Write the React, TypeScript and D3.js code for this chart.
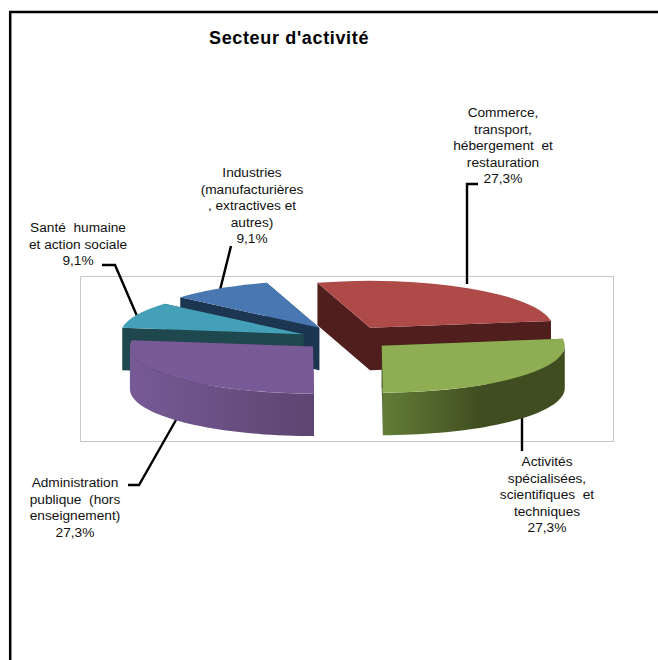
import React from "react";
import * as d3 from "d3";

const width = 658;
const height = 660;

// donnees
const title = "Secteur d'activité";
const secteurs = [
  "Commerce, transport, hébergement et restauration",
  "Activités spécialisées, scientifiques et techniques",
  "Administration publique (hors enseignement)",
  "Santé humaine et action sociale",
  "Industries (manufacturières, extractives et autres)",
];
const valeurs = [27.3, 27.3, 27.3, 9.1, 9.1];
const pourcent = ["27,3%", "27,3%", "27,3%", "9,1%", "9,1%"];
const explosion = [56, 55, 36, 40, 38];
const ajustY = [1.5, -2, 2, 0, -2.5];

const etiquettes = [
  ["Commerce,", "transport,", "hébergement  et", "restauration", "27,3%"],
  ["Activités", "spécialisées,", "scientifiques  et", "techniques", "27,3%"],
  ["Administration", "publique  (hors", "enseignement)", "27,3%"],
  ["Santé  humaine", "et action sociale", "9,1%"],
  ["Industries", "(manufacturières", ", extractives et", "autres)", "9,1%"],
];
const etiquetteX = [503, 547, 75, 78, 252];
const etiquetteY = [117, 466, 487, 232, 177];

const couleursDessus = ["#ae4a47", "#8fae54", "#775a96", "#43a0b8", "#4877b1"];
const couleursCoupe = ["#4f1e1d", "#3f4d20", "#4a3860", "#1f474e", "#1c3550"];
const couleursParoi = [
  ["#6e2e2c", "#4f1e1d"],
  ["#647e38", "#3f4d20"],
  ["#775a96", "#5c4570"],
  ["#2c6472", "#1f474e"],
  ["#2c4d74", "#1c3550"],
];

const leaders = [
  [[467, 284], [467, 184], [478, 184]],
  [[522, 416], [522, 451]],
  [[176, 420], [139, 485], [128, 485]],
  [[137, 316], [115, 265], [102, 265]],
  [[220, 290], [231, 246]],
];

const rx = 183;
const ry = 47;
const epaisseur = 42.5;
const cx = 340;
const cy = 338.5;
const depart = (-16.7 * Math.PI) / 180;

const pie = d3
  .pie<number>()
  .sort(null)
  .value((d) => d)
  .startAngle(depart)
  .endAngle(depart + 2 * Math.PI);

const arcs = pie(valeurs);

const centres = arcs.map((a, i) => {
  const mid = (a.startAngle + a.endAngle) / 2;
  return {
    x: cx + explosion[i] * Math.sin(mid),
    y: cy - (explosion[i] * Math.cos(mid) * ry) / rx + ajustY[i],
  };
});

const dessus = d3.arc<d3.PieArcDatum<number>>().innerRadius(0).outerRadius(rx);

// ordre de dessin repris de la figure : rouge, bleu, sarcelle, violet, vert
const ordre = [0, 4, 3, 2, 1];

const px = (a: number) => rx * Math.sin(a);
const py = (a: number) => -ry * Math.cos(a);

function Part({ i }: { i: number }) {
  const a = arcs[i];
  const c = centres[i];
  // seule la moitie avant de la paroi est visible
  const lo = Math.max(a.startAngle, Math.PI / 2);
  const hi = Math.min(a.endAngle, (3 * Math.PI) / 2);
  const angles = lo < hi ? d3.range(0, 41).map((k) => lo + ((hi - lo) * k) / 40) : [];
  const paroi = d3
    .area<number>()
    .x((t) => px(t))
    .y0((t) => py(t))
    .y1((t) => py(t) + epaisseur)(angles) as string;
  const coupe = (t: number) =>
    `M0,0L${px(t)},${py(t)}L${px(t)},${py(t) + epaisseur}L0,${epaisseur}Z`;
  const xs = angles.map(px);
  return (
    <g transform={`translate(${c.x},${c.y})`}>
      <defs>
        <linearGradient
          id={`paroi${i}`}
          gradientUnits="userSpaceOnUse"
          x1={i === 1 ? 0 : d3.min(xs)}
          x2={i === 1 ? 100 : d3.max(xs)}
          y1={0}
          y2={0}
        >
          <stop offset="0" stopColor={couleursParoi[i][0]} />
          <stop offset="1" stopColor={couleursParoi[i][1]} />
        </linearGradient>
      </defs>
      <path d={coupe(a.startAngle)} fill={couleursCoupe[i]} />
      <path d={coupe(a.endAngle)} fill={couleursCoupe[i]} />
      {angles.length > 0 && <path d={paroi} fill={`url(#paroi${i})`} />}
      <path
        d={dessus(a) as string}
        transform={`scale(1,${ry / rx})`}
        fill={couleursDessus[i]}
      />
    </g>
  );
}

export default function App() {
  return (
    <svg
      width={width}
      height={height}
      aria-label={secteurs.map((s, i) => `${s} ${pourcent[i]}`).join(", ")}
      style={{ position: "absolute", left: 0, top: 0, background: "#fff" }}
    >
      <path d={`M10.2,${height}V12H${width}`} fill="none" stroke="#000" strokeWidth={2.5} />
      <rect x={80.5} y={276.5} width={533} height={165} fill="none" stroke="#c8c8c8" />

      {/* traits de rappel sous les parts */}
      {leaders.map((l, i) => (
        <path key={i} d={d3.line()(l as [number, number][]) as string} fill="none" stroke="#000" strokeWidth={2.4} />
      ))}

      {ordre.map((i) => (
        <Part key={i} i={i} />
      ))}

      <text
        x={209}
        y={44}
        fontFamily="Liberation Sans"
        fontWeight="bold"
        fontSize={18}
        letterSpacing={0.65}
        fill="#000"
      >
        {title}
      </text>

      {etiquettes.map((lignes, i) => (
        <text
          key={i}
          textAnchor="middle"
          fontFamily="Liberation Sans"
          fontSize={13.7}
          fill="#111"
          style={{ whiteSpace: "pre" }}
        >
          {lignes.map((t, k) => (
            <tspan key={k} x={etiquetteX[i]} y={etiquetteY[i] + k * 16.6}>
              {t}
            </tspan>
          ))}
        </text>
      ))}
    </svg>
  );
}
